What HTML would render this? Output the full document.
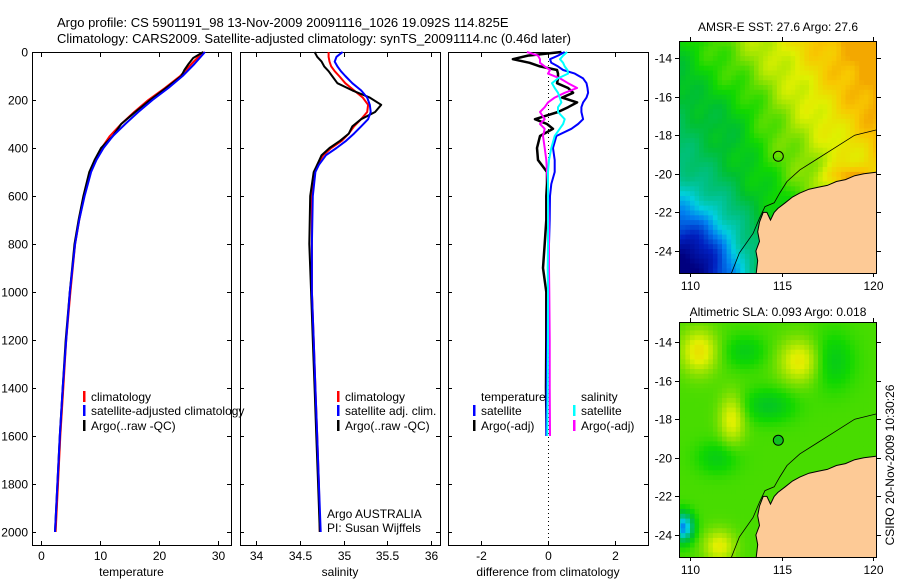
<!DOCTYPE html>
<html><head><meta charset="utf-8"><style>
html,body{margin:0;padding:0;background:#fff;}
svg{display:block;font-family:"Liberation Sans",sans-serif;}
text{font-size:12px;fill:#000;}
</style></head><body>
<svg id="fig" width="900" height="580" viewBox="0 0 900 580" xmlns="http://www.w3.org/2000/svg">
<rect width="900" height="580" fill="#fff"/>
<text x="57" y="27" style="font-size:13px">Argo profile: CS 5901191_98 13-Nov-2009 20091116_1026 19.092S 114.825E</text>
<text x="57" y="43" style="font-size:13px">Climatology: CARS2009. Satellite-adjusted climatology: synTS_20091114.nc (0.46d later)</text>
<g id="panels"></g>
<text x="778" y="31" text-anchor="middle">AMSR-E SST: 27.6 Argo: 27.6</text>
<text x="778" y="316" text-anchor="middle">Altimetric SLA: 0.093 Argo: 0.018</text>
<text transform="translate(894,465) rotate(-90)" text-anchor="middle">CSIRO 20-Nov-2009 10:30:26</text>
</svg>
<script>
// ---- data ----
const depthT = [0,25,50,75,100,150,200,250,300,350,400,450,500,600,700,800,1000,1200,1400,1600,1800,2000];
const climT  = [27.6,26.5,25.5,24.6,23.6,21.0,18.2,15.8,13.6,11.7,10.3,9.2,8.4,7.3,6.5,5.8,5.0,4.3,3.8,3.3,2.9,2.5];
const satT   = [27.8,26.9,26.0,25.0,24.0,21.6,18.9,16.5,14.3,12.2,10.6,9.4,8.5,7.4,6.5,5.8,4.9,4.3,3.7,3.2,2.8,2.4];
const argoT  = [27.5,25.8,25.0,24.3,23.8,21.2,18.5,16.0,13.6,12.2,10.2,9.1,8.2,7.2,6.4,5.7,4.9,4.2,3.7,3.2,2.8,2.4];
const depthS = [0,20,40,60,80,100,130,160,190,220,250,280,310,340,370,400,430,470,500,600,800,1000,1200,1400,1600,1800,2000];
const climS  = [34.83,34.83,34.84,34.86,34.9,34.95,35.02,35.12,35.22,35.28,35.27,35.2,35.12,35.06,34.98,34.86,34.77,34.7,34.67,34.64,34.64,34.64,34.66,34.68,34.7,34.72,34.73];
const satS   = [34.99,34.92,34.9,34.93,34.97,35.02,35.1,35.2,35.27,35.3,35.31,35.28,35.2,35.12,35.03,34.92,34.8,34.72,34.68,34.65,34.64,34.64,34.66,34.68,34.7,34.72,34.74];
const argoS  = [34.67,34.7,34.75,34.78,34.83,34.87,34.93,35.1,35.3,35.43,35.36,35.2,35.1,35.06,34.96,34.84,34.75,34.7,34.66,34.62,34.61,34.63,34.65,34.67,34.69,34.71,34.73];
const depthD = [0,15,30,45,60,75,90,110,130,150,170,190,210,230,250,280,300,320,350,400,450,500,550,600,700,800,900,1000,1200,1400,1600];
const tempSatDiff  = [0.5,0.3,0.06,0.1,0.3,0.45,0.8,1.05,1.15,1.18,1.2,1.15,1.05,1.0,1.0,1.05,0.9,0.7,0.25,0.15,0.2,0.2,0.1,0.06,0.05,0.03,0.03,0.0,-0.02,-0.04,-0.05];
const tempArgoDiff = [0.4,-0.6,-1.05,-0.55,-0.24,0.27,0.3,0.3,0.27,0.6,0.75,0.42,0.87,0.6,0.3,-0.39,-0.03,0.15,-0.24,-0.33,-0.3,-0.03,-0.03,-0.05,-0.05,-0.1,-0.15,-0.05,-0.05,-0.06,-0.04];
const salSatDiff   = [0.57,0.45,0.36,0.45,0.5,0.58,0.6,0.3,0.12,0.2,0.3,0.35,0.4,0.3,0.3,0.5,0.45,0.35,0.2,0.1,0.03,0.0,0.0,0.0,0.0,0.0,-0.01,0.0,0.0,-0.01,-0.02];
const salArgoDiff  = [-0.63,-0.3,-0.24,-0.24,-0.1,0.06,0.0,0.36,0.6,0.87,0.5,0.2,0.0,-0.1,-0.24,-0.1,-0.24,-0.1,-0.15,-0.1,-0.05,-0.03,0.0,0.0,0.02,0.03,0.03,0.04,0.05,0.05,0.06];
const depthTicks = [0,200,400,600,800,1000,1200,1400,1600,1800,2000];
const tempTicks = [0,10,20,30];
const salTicks = [34,34.5,35,35.5,36];
const salTickLabels = ["34","34.5","35","35.5","36"];
const diffTicks = [-2,0,2];
const latTicks = [-14,-16,-18,-20,-22,-24];
const lonTicks = [110,115,120];
const argoLon = 114.825, argoLat = -19.092;

const NS='http://www.w3.org/2000/svg';
const root=document.getElementById('panels');
function mk(tag,attrs,parent){const e=document.createElementNS(NS,tag);for(const k in attrs)e.setAttribute(k,attrs[k]);(parent||root).appendChild(e);return e;}
const yD=d=>52+d*0.24;
const PB=545;
const panels=[
 {x0:32,x1:231,v0:-1.5,v1:32.2},
 {x0:240,x1:440,v0:33.82,v1:36.1},
 {x0:448,x1:648,v0:-2.99,v1:2.99}];
function xs(p){return v=>p.x0+(v-p.v0)/(p.v1-p.v0)*(p.x1-p.x0);}
function axesBox(p,name,ticks,labels,xlabel,showY){
  const g=mk('g',{});
  
  
  const sx=xs(p);
  mk('rect',{x:p.x0+0.5,y:52.5,width:p.x1-p.x0,height:PB-52,fill:'none',stroke:'#000','stroke-width':1},g);
  ticks.forEach((t,i)=>{const x=Math.round(sx(t))+0.5;
    mk('line',{x1:x,x2:x,y1:PB,y2:PB-4,stroke:'#000'},g);
    mk('line',{x1:x,x2:x,y1:53,y2:57,stroke:'#000'},g);
    const tx=mk('text',{x:x,y:560,'text-anchor':'middle'},g);
    tx.textContent=labels[i];
    
    
  });
  depthTicks.forEach(d=>{const y=Math.round(yD(d))+0.5;
    mk('line',{x1:p.x0,x2:p.x0+4,y1:y,y2:y,stroke:'#000'},g);
    mk('line',{x1:p.x1,x2:p.x1-4,y1:y,y2:y,stroke:'#000'},g);
    if(showY){const t=mk('text',{x:p.x0-4,y:y+4,'text-anchor':'end'},g);t.textContent=d;
      
      }
  });
  const xl=mk('text',{x:(p.x0+p.x1)/2,y:576,'text-anchor':'middle'},g);xl.textContent=xlabel;
  
  
}
function line(p,vals,depths,color,name,w){
  const sx=xs(p);
  const pts=vals.map((v,i)=>sx(v).toFixed(1)+','+yD(depths[i]).toFixed(1)).join(' ');
  const e=mk('polyline',{points:pts,fill:'none',stroke:color,'stroke-width':w||2,'stroke-linejoin':'round'});
  
  
}
function legendEntry(x,y,color,label,name){
  const g=mk('g',{});
  
  
  if(color) mk('rect',{x:x,y:y-6,width:2.5,height:11,fill:color},g);
  const t=mk('text',{x:x+8,y:y+4},g);t.textContent=label;
}
axesBox(panels[0],'temperature-axes',tempTicks,tempTicks.map(String),'temperature',true);
line(panels[0],climT,depthT,'#f00','climatology-temperature-line');
line(panels[0],argoT,depthT,'#000','argo-temperature-line');
line(panels[0],satT,depthT,'#00f','satellite-temperature-line');
legendEntry(83,397,'#f00','climatology','legend-climatology');
legendEntry(83,411,'#00f','satellite-adjusted climatology','legend-satellite-adjusted');
legendEntry(83,426,'#000','Argo(..raw -QC)','legend-argo');
axesBox(panels[1],'salinity-axes',salTicks,salTickLabels,'salinity',false);
line(panels[1],climS,depthS,'#f00','climatology-salinity-line');
line(panels[1],argoS,depthS,'#000','argo-salinity-line');
line(panels[1],satS,depthS,'#00f','satellite-salinity-line');
legendEntry(337,397,'#f00','climatology','legend-sal-climatology');
legendEntry(337,411,'#00f','satellite adj. clim.','legend-sal-satellite');
legendEntry(337,426,'#000','Argo(..raw -QC)','legend-sal-argo');
{const t=mk('text',{x:327,y:518});t.textContent='Argo AUSTRALIA';
 const t2=mk('text',{x:327,y:532});t2.textContent='PI: Susan Wijffels';}
axesBox(panels[2],'difference-axes',diffTicks,diffTicks.map(String),'difference from climatology',false);
{const x=xs(panels[2])(0)+0.5;const z=mk('line',{x1:x,x2:x,y1:53,y2:PB,stroke:'#000','stroke-dasharray':'1,3'});}
line(panels[2],tempArgoDiff,depthD,'#000','argo-temperature-diff-line',2.5);
line(panels[2],tempSatDiff,depthD,'#00f','satellite-temperature-diff-line');
line(panels[2],salArgoDiff,depthD,'#f0f','argo-salinity-diff-line');
line(panels[2],salSatDiff,depthD,'#0ff','satellite-salinity-diff-line');
legendEntry(473,397,null,'temperature','legend-temperature-header');
legendEntry(473,411,'#00f','satellite','legend-temp-satellite');
legendEntry(473,426,'#000','Argo(-adj)','legend-temp-argo');
legendEntry(573,397,null,'salinity','legend-salinity-header');
legendEntry(573,411,'#0ff','satellite','legend-sal-sat');
legendEntry(573,426,'#f0f','Argo(-adj)','legend-sal-argo-diff');

// ---- maps ----
const stops=[[0,[0,0,127]],[0.12,[0,32,192]],[0.25,[0,128,240]],[0.35,[0,208,224]],[0.45,[0,192,128]],[0.55,[0,192,48]],[0.62,[16,216,0]],[0.7,[128,224,0]],[0.78,[224,240,0]],[0.86,[248,200,0]],[0.93,[240,144,0]],[1,[192,32,0]]];
function cmap(v){v=Math.max(0,Math.min(1,v));for(let i=1;i<stops.length;i++){if(v<=stops[i][0]){const a=stops[i-1],b=stops[i],f=(v-a[0])/(b[0]-a[0]);return 'rgb('+a[1].map((c,k)=>Math.round(c+(b[1][k]-c)*f)).join(',')+')';}}return 'rgb(192,32,0)';}
const gs=(lon,lat,cx,cy,sx,sy)=>Math.exp(-((lon-cx)**2/(2*sx*sx)+(lat-cy)**2/(2*sy*sy)));
function sst(lon,lat){let v=0.64+0.035*(lon-113)+0.02*(lat+17)-0.4*gs(lon,lat,110,-25,1.8,2.2)-0.04*gs(lon,lat,112.5,-17,1.2,1.2)+0.12*gs(lon,lat,118.5,-20.2,1,0.4)+0.015*Math.sin(lon*2.1+lat*1.7)+0.012*Math.cos(lon*3.3-lat*2.6);return Math.min(v,0.9);}
function sla(lon,lat){return 0.66+0.15*gs(lon,lat,110.5,-14.5,0.7,0.8)+0.14*gs(lon,lat,116,-15,0.8,0.8)+0.13*gs(lon,lat,112.3,-18,0.5,0.9)+0.13*gs(lon,lat,111.6,-24.6,0.6,0.6)-0.09*gs(lon,lat,114.3,-17.3,1,0.6)-0.08*gs(lon,lat,117.8,-15,0.8,1)-0.07*gs(lon,lat,111.5,-20,0.8,0.6)-0.07*gs(lon,lat,113,-14.5,0.8,0.6)-0.4*gs(lon,lat,109.6,-23.6,0.4,0.5);}
const coast=[[120.3,-19.9],[119.5,-20.0],[119,-20.1],[118.5,-20.3],[118,-20.4],[117.5,-20.6],[117,-20.7],[116.5,-20.8],[116,-21.0],[115.6,-21.2],[115.2,-21.5],[114.8,-21.8],[114.6,-22.0],[114.4,-22.4],[114.2,-22.0],[114.0,-22.0],[113.8,-22.5],[113.7,-23.0],[113.8,-23.5],[113.6,-24.0],[113.7,-24.5],[113.6,-25.3]];
const isobath=[[120.3,-17.7],[119,-18.0],[118,-18.6],[117,-19.2],[116,-19.8],[115.3,-20.4],[114.9,-21.0],[114.6,-21.5],[114.1,-21.7],[113.8,-22.3],[113.44,-23.1],[112.7,-24.1],[112.2,-25.3]];
function drawMap(m){
  const g=mk('g',{});
  
  
  const X=lon=>690+(lon-110)*18.3, Y=lat=>m.y14+(-14-lat)*19.3;
  const cid='clip'+m.name;
  const cp=mk('clipPath',{id:cid},g);mk('rect',{x:679,y:m.top,width:198,height:m.bot-m.top},cp);
  const inner=mk('g',{'clip-path':'url(#'+cid+')'},g);
  const d=0.25;
  for(let lon=109.25;lon<120.4;lon+=d){for(let lat=-12.9;lat>-25.5;lat-=d){
    mk('rect',{x:X(lon).toFixed(1),y:Y(lat).toFixed(1),width:(d*18.3+0.6).toFixed(1),height:(d*19.3+0.6).toFixed(1),fill:cmap(m.f(lon+d/2,lat-d/2))},inner);}}
  const land=mk('polygon',{points:coast.concat([[120.3,-25.3]]).map(p=>X(p[0]).toFixed(1)+','+Y(p[1]).toFixed(1)).join(' '),fill:'#fdca96',stroke:'none'},inner);
  
  
  mk('polyline',{points:coast.map(p=>X(p[0]).toFixed(1)+','+Y(p[1]).toFixed(1)).join(' '),fill:'none',stroke:'#000','stroke-width':1},inner);
  mk('polyline',{points:isobath.map(p=>X(p[0]).toFixed(1)+','+Y(p[1]).toFixed(1)).join(' '),fill:'none',stroke:'#000','stroke-width':0.8},inner);
  const c=mk('circle',{cx:X(argoLon),cy:Y(argoLat),r:5,fill:m.mark,stroke:'#000','stroke-width':1},g);
  
  
  mk('rect',{x:679.5,y:m.top+0.5,width:197,height:m.bot-m.top,fill:'none',stroke:'#000'},g);
  latTicks.forEach(l=>{const y=Math.round(Y(l))+0.5;
    mk('line',{x1:679,x2:675,y1:y,y2:y,stroke:'#000'},g);mk('line',{x1:877,x2:881,y1:y,y2:y,stroke:'#000'},g);
    const t=mk('text',{x:672,y:y+4,'text-anchor':'end'},g);t.textContent=l;
    
    });
  lonTicks.forEach(l=>{const x=Math.round(X(l))+0.5;
    mk('line',{x1:x,x2:x,y1:m.top,y2:m.top-4,stroke:'#000'},g);mk('line',{x1:x,x2:x,y1:m.bot,y2:m.bot+4,stroke:'#000'},g);
    const t=mk('text',{x:x,y:m.bot+17,'text-anchor':'middle'},g);t.textContent=l;
    
    });
}
drawMap({name:'sst-map',top:41,bot:273,y14:58,f:sst,mark:'none'});
drawMap({name:'sla-map',top:322,bot:557,y14:342,f:sla,mark:'#10c020'});
</script>
</body></html>
